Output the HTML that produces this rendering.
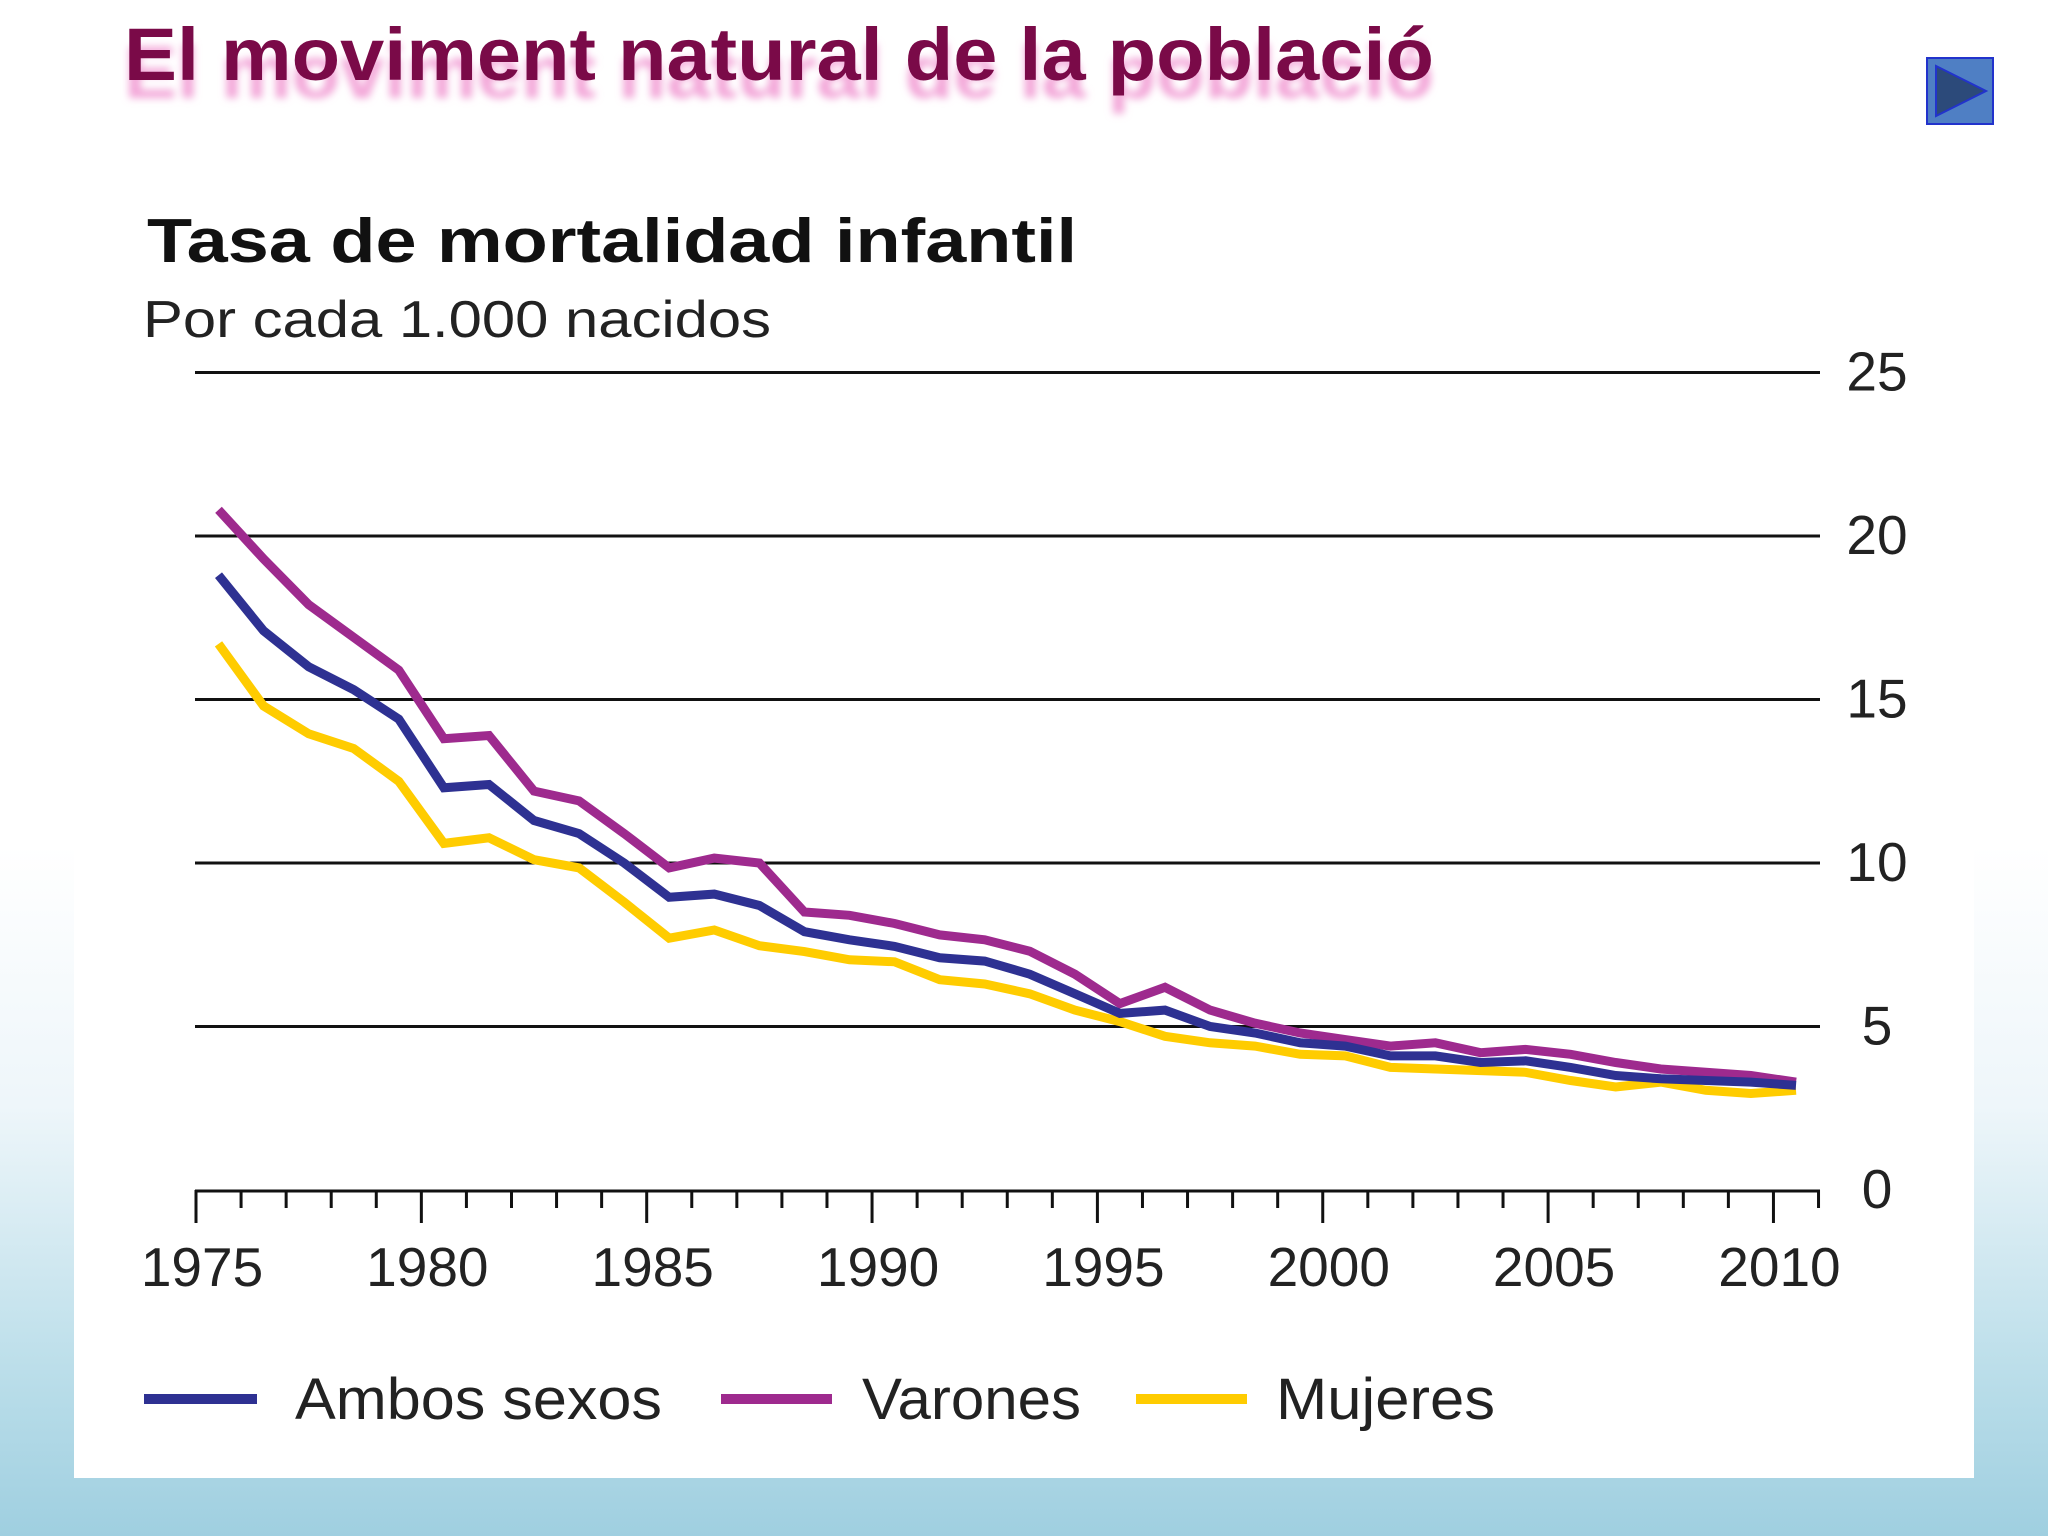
<!DOCTYPE html>
<html><head><meta charset="utf-8"><style>
html,body{margin:0;padding:0;}
body{width:2048px;height:1536px;overflow:hidden;position:relative;font-family:"Liberation Sans",sans-serif;
background:linear-gradient(to bottom,#ffffff 0%,#ffffff 55%,#eef6fa 72%,#b9dde9 90%,#9fcfe0 100%);}
svg{position:absolute;left:0;top:0;}
</style></head><body>
<svg width="2048" height="1536" viewBox="0 0 2048 1536">
<defs><filter id="sh" x="-5%" y="-20%" width="110%" height="160%"><feGaussianBlur stdDeviation="4"/></filter></defs>
<rect x="74" y="172" width="1900" height="1306" fill="#ffffff"/>
<g>
<text x="124" y="90" font-size="74" font-weight="bold" fill="#f3a6d8" filter="url(#sh)" textLength="1310" lengthAdjust="spacingAndGlyphs" transform="translate(0,8)">El moviment natural de la població</text>
<text x="124" y="80" font-size="74" font-weight="bold" fill="#7a0a48" textLength="1310" lengthAdjust="spacingAndGlyphs">El moviment natural de la població</text>
</g>
<g>
<rect x="1927" y="58" width="66" height="66" fill="#4f7fc4" stroke="#2233cc" stroke-width="2"/>
<polygon points="1936,66 1936,116 1986,91" fill="#2c4a7a" stroke="#2233cc" stroke-width="2"/>
</g>
<text x="147" y="262" font-size="62" font-weight="bold" fill="#111" textLength="930" lengthAdjust="spacingAndGlyphs">Tasa de mortalidad infantil</text>
<text x="143" y="337" font-size="52" fill="#222" textLength="628" lengthAdjust="spacingAndGlyphs">Por cada 1.000 nacidos</text>
<g id="grid"></g><g id="axis"></g><g id="series"></g>
<g>
<line x1="144" y1="1399" x2="257" y2="1399" stroke="#2e3192" stroke-width="10"/>
<text x="295" y="1419" font-size="58" fill="#222" textLength="367" lengthAdjust="spacingAndGlyphs">Ambos sexos</text>
<line x1="721" y1="1399" x2="832" y2="1399" stroke="#9e2a8e" stroke-width="10"/>
<text x="862" y="1419" font-size="58" fill="#222" textLength="219" lengthAdjust="spacingAndGlyphs">Varones</text>
<line x1="1136" y1="1399" x2="1247" y2="1399" stroke="#ffcc00" stroke-width="10"/>
<text x="1276" y="1419" font-size="58" fill="#222" textLength="219" lengthAdjust="spacingAndGlyphs">Mujeres</text>
</g>
</svg>
<script>
const years = [1975,1976,1977,1978,1979,1980,1981,1982,1983,1984,1985,1986,1987,1988,1989,1990,1991,1992,1993,1994,1995,1996,1997,1998,1999,2000,2001,2002,2003,2004,2005,2006,2007,2008,2009,2010];
const varones = [20.8,19.3,17.9,16.9,15.9,13.8,13.9,12.2,11.9,10.9,9.85,10.15,10.0,8.5,8.4,8.15,7.8,7.65,7.3,6.6,5.7,6.2,5.5,5.1,4.8,4.6,4.4,4.5,4.2,4.3,4.15,3.9,3.7,3.6,3.5,3.3];
const ambos = [18.8,17.1,16.0,15.3,14.4,12.3,12.4,11.3,10.9,10.0,8.95,9.05,8.7,7.9,7.65,7.45,7.1,7.0,6.6,6.0,5.4,5.5,5.0,4.8,4.5,4.4,4.1,4.1,3.9,3.95,3.75,3.5,3.4,3.35,3.3,3.2];
const mujeres = [16.7,14.8,13.95,13.5,12.5,10.6,10.77,10.1,9.85,8.8,7.7,7.95,7.47,7.29,7.04,6.98,6.43,6.3,6.0,5.5,5.15,4.7,4.5,4.4,4.15,4.1,3.75,3.7,3.65,3.6,3.35,3.15,3.3,3.05,2.95,3.05];
const yTicks = [0,5,10,15,20,25];
const xLabels = [1975,1980,1985,1990,1995,2000,2005,2010];
const NS="http://www.w3.org/2000/svg";
const X = t => 196 + (t-1975)*45.07;
const Y = v => 1190 - v*32.7;
function mk(tag,attrs,parent){const e=document.createElementNS(NS,tag);for(const k in attrs)e.setAttribute(k,attrs[k]);parent.appendChild(e);return e;}
const grid=document.getElementById('grid'),axis=document.getElementById('axis'),ser=document.getElementById('series');
yTicks.forEach(v=>{
  if(v>0){const l=mk('line',{x1:195,x2:1820,y1:Y(v),y2:Y(v),stroke:'#111','stroke-width':3},grid);
  
  }
  const t=mk('text',{x:1877,y:Y(v)+18,'font-size':55,'text-anchor':'middle',fill:'#222'},grid);
  t.textContent=v;
  
  
});
const ax=mk('line',{x1:195,x2:1820,y1:1191,y2:1191,stroke:'#111','stroke-width':3},axis);


for(let t=1975;t<=2011;t++){
  const major=(t%5===0)||t===2011;
  const k=mk('line',{x1:X(t),x2:X(t),y1:1190,y2:major&&t!==2011?1223:1208,stroke:'#111','stroke-width':3},axis);
  
  
}
xLabels.forEach(t=>{
  const e=mk('text',{x:X(t)+6,y:1286,'font-size':55,'text-anchor':'middle',fill:'#222'},axis);
  e.textContent=t;
  
  
});
function line(vals,color,name){
  const pts=vals.map((v,i)=>X(years[i]+0.5).toFixed(1)+','+Y(v).toFixed(1)).join(' ');
  const p=mk('polyline',{points:pts,fill:'none',stroke:color,'stroke-width':9,'stroke-linejoin':'miter'},ser);
  
  
}
line(mujeres,'#ffcc00','series-mujeres');
line(varones,'#9e2a8e','series-varones');
line(ambos,'#2e3192','series-ambos-sexos');
</script>
</body></html>
